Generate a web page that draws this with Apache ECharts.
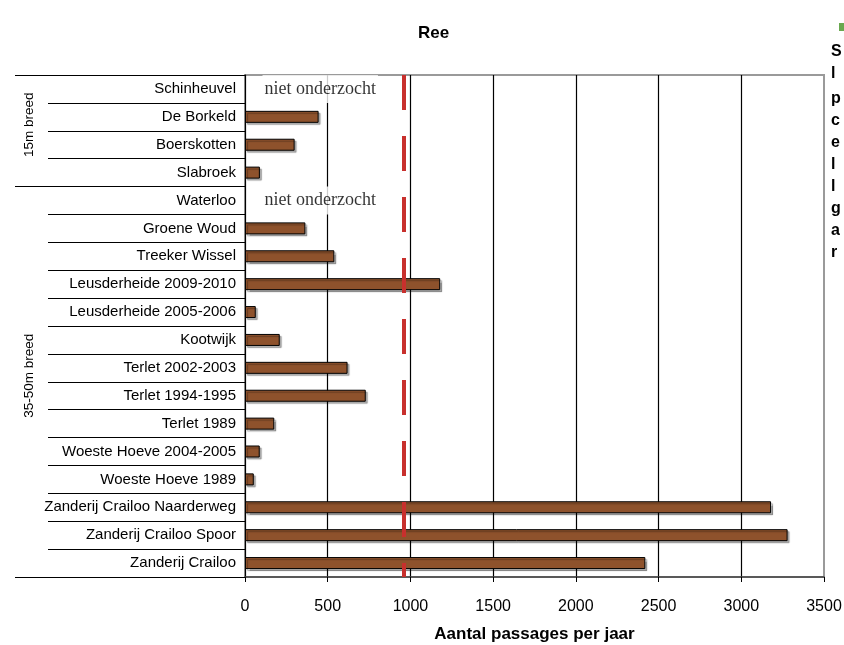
<!DOCTYPE html>
<html><head><meta charset="utf-8">
<script src="https://cdn.jsdelivr.net/npm/echarts@6/dist/echarts.min.js"></script>
<style>html,body{margin:0;padding:0;background:#fff;overflow:hidden}#c{width:844px;height:645px}</style>
</head><body><div id="c"></div>
<script>
// ---- data ----
const categories = ['Schinheuvel','De Borkeld','Boerskotten','Slabroek','Waterloo','Groene Woud','Treeker Wissel','Leusderheide 2009-2010','Leusderheide 2005-2006','Kootwijk','Terlet 2002-2003','Terlet 1994-1995','Terlet 1989','Woeste Hoeve 2004-2005','Woeste Hoeve 1989','Zanderij Crailoo Naarderweg','Zanderij Crailoo Spoor','Zanderij Crailoo'];
const passages = [null,445,300,90,null,365,540,1180,65,210,620,730,177,89,53,3180,3280,2420];
const notStudied = ['Schinheuvel','Waterloo'];
const notStudiedText = 'niet onderzocht';
const groupStarts = ['Schinheuvel','Waterloo'];
const groupNames = ['15m breed','35-50m breed'];
const threshold = 960;
const xMin = 0, xMax = 3500, xInterval = 500;
const titleText = 'Ree';
const xAxisName = 'Aantal passages per jaar';
const sideLetters = ['S','l','p','c','e','l','l','g','a','r'];
const sideLetterY = [52,74,99,121,143,165,187,209,231,253];

const SANS = 'Liberation Sans, Arial, sans-serif';
const SERIF = 'Liberation Serif, Times New Roman, serif';

const chart = echarts.init(document.getElementById('c'), null, {renderer:'canvas'});
const option = {
  animation: false,
  backgroundColor: '#fff',
  textStyle: {fontFamily: SANS},
  title: {text: titleText, left: 413, top: 20, textStyle: {fontSize: 17, fontWeight: 'bold', color: '#000', fontFamily: SANS}},
  grid: {left: 245, right: 20, top: 75, bottom: 68, show: true, borderColor: '#9a9a9a', borderWidth: 2,
    backgroundColor: 'transparent', containLabel: false, outerBoundsMode: 'none'},
  xAxis: {
    type: 'value', min: xMin, max: xMax, interval: xInterval,
    axisLine: {show: true, lineStyle: {color: '#444', width: 1.5}},
    axisTick: {show: true, length: 5, lineStyle: {color: '#000'}},
    axisLabel: {fontSize: 16, color: '#000', margin: 22, fontFamily: SANS, formatter: function (v) { return String(v); }},
    splitLine: {show: true, showMinLine: false, showMaxLine: false, lineStyle: {color: '#000', width: 1.2}},
    name: xAxisName, nameLocation: 'middle', nameGap: 49,
    nameTextStyle: {fontSize: 17, fontWeight: 'bold', color: '#000', fontFamily: SANS}
  },
  yAxis: [{
    type: 'category', data: categories, inverse: true,
    axisLine: {show: true, lineStyle: {color: '#000', width: 1.2}},
    axisTick: {show: true, interval: 0, length: 197, lineStyle: {color: '#000', width: 1.2}},
    axisLabel: {fontSize: 15, color: '#000', margin: 9, interval: 0, fontFamily: SANS},
    splitLine: {show: false}
  }, {
    type: 'category', data: categories, inverse: true, position: 'left',
    axisLine: {show: false},
    axisTick: {show: true, length: 230, interval: function (i, v) { return groupStarts.indexOf(v) >= 0; }, lineStyle: {color: '#000', width: 1.2}},
    axisLabel: {show: false},
    splitLine: {show: false}
  }],
  series: [{
    type: 'bar', data: passages, barWidth: 12, yAxisIndex: 0,
    itemStyle: {color: '#8E522C', borderColor: '#000', borderWidth: 1,
      shadowColor: 'rgba(0,0,0,0.3)', shadowOffsetX: 2, shadowOffsetY: 2, shadowBlur: 1},
    markLine: {
      silent: true, symbol: 'none', label: {show: false},
      lineStyle: {color: '#C8302D', width: 4, type: [35, 26], opacity: 1},
      data: [{xAxis: threshold}]
    }
  }, {
    type: 'scatter', yAxisIndex: 0, silent: true,
    data: notStudied.map(n => [0, n]),
    symbolSize: 1, itemStyle: {color: 'rgba(0,0,0,0)'},
    label: {show: true, position: 'right', distance: 17, formatter: notStudiedText,
      fontFamily: SERIF, fontSize: 18, color: '#000', backgroundColor: '#fff',
      lineHeight: 20, padding: [4, 2, 4, 2]}
  }]
};
chart.setOption(option);

const gfx = [];
groupNames.forEach((g, k) => {
  const s = categories.indexOf(groupStarts[k]);
  const e = k + 1 < groupStarts.length ? categories.indexOf(groupStarts[k + 1]) - 1 : categories.length - 1;
  const y0 = chart.convertToPixel({yAxisIndex: 0}, categories[s]);
  const y1 = chart.convertToPixel({yAxisIndex: 0}, categories[e]);
  gfx.push({type: 'text', x: 29, y: (y0 + y1) / 2 - 6, rotation: Math.PI / 2,
    style: {text: g, x: 0, y: 0, align: 'center', verticalAlign: 'middle', fontSize: 13.5, fontFamily: SANS, fill: '#000'}});
});
gfx.push({type: 'rect', shape: {x: 839, y: 23, width: 5, height: 8}, style: {fill: '#6aa84f'}});
sideLetters.forEach((l, i) => {
  gfx.push({type: 'text', x: 831, y: sideLetterY[i],
    style: {text: l, align: 'left', verticalAlign: 'middle', fontSize: 16, fontWeight: 'bold', fontFamily: SANS, fill: '#000'}});
});
chart.setOption({graphic: gfx});
</script></body></html>
